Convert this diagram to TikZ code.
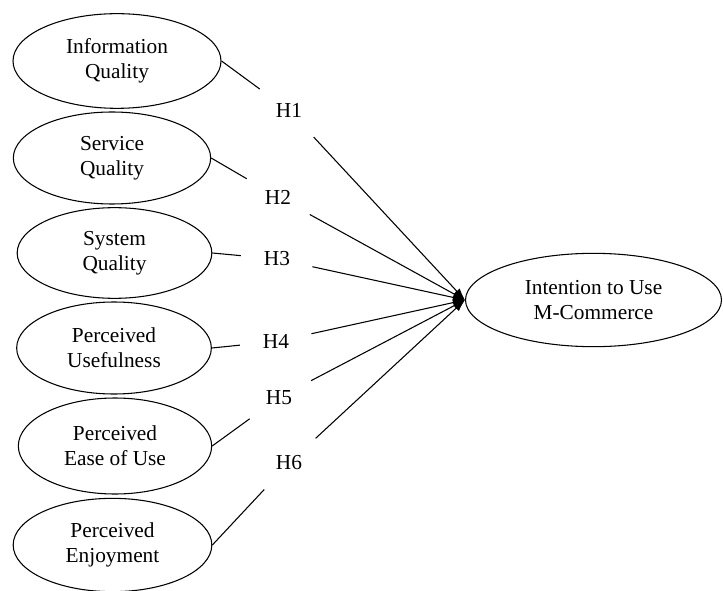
\documentclass[tikz,border=0pt]{standalone}
\usepackage{fontspec}
\setmainfont{Liberation Serif}
\usetikzlibrary{arrows.meta,shapes.geometric}

\begin{document}
\begin{tikzpicture}[x=0.75pt,y=-0.75pt,
  construct/.style={draw,ellipse,line width=0.8pt,inner sep=0pt,align=center,font=\fontsize{16}{18.5}\selectfont},
  hyp/.style={circle,minimum size=54pt,inner sep=0pt,font=\fontsize{16}{18}\selectfont},
  link/.style={line width=0.8pt,-{Latex[length=9pt,width=6pt]}}]

\useasboundingbox (0,0) rectangle (723,591);

\node[construct,minimum width=156pt,minimum height=71pt] (iq) at (117,61) {Information\\Quality};
\node[construct,minimum width=148pt,minimum height=69pt] (sq) at (112,158) {Service\\Quality};
\node[construct,minimum width=146pt,minimum height=68pt] (sysq) at (114.5,253) {System\\Quality};
\node[construct,minimum width=146pt,minimum height=69pt] (pu) at (114,348) {Perceived\\Usefulness};
\node[construct,minimum width=145pt,minimum height=72pt] (peou) at (115,446) {Perceived\\Ease of Use};
\node[construct,minimum width=149pt,minimum height=70pt] (pe) at (112.5,545) {Perceived\\Enjoyment};
\node[construct,minimum width=192pt,minimum height=70pt] (itu) at (593.5,300) {Intention to Use\\M-Commerce};

\node[hyp] (h1) at (289,110.5) {H1};
\node[hyp] (h2) at (278,197) {H2};
\node[hyp] (h3) at (277,259) {H3};
\node[hyp] (h4) at (276,341.5) {H4};
\node[hyp] (h5) at (279,397.5) {H5};
\node[hyp] (h6) at (289,463) {H6};

\draw[link] (iq.east) -- (h1) -- (itu.west);
\draw[link] (sq.east) -- (h2) -- (itu.west);
\draw[link] (sysq.east) -- (h3) -- (itu.west);
\draw[link] (pu.east) -- (h4) -- (itu.west);
\draw[link] (peou.east) -- (h5) -- (itu.west);
\draw[link] (pe.east) -- (h6) -- (itu.west);

\end{tikzpicture}
\end{document}
